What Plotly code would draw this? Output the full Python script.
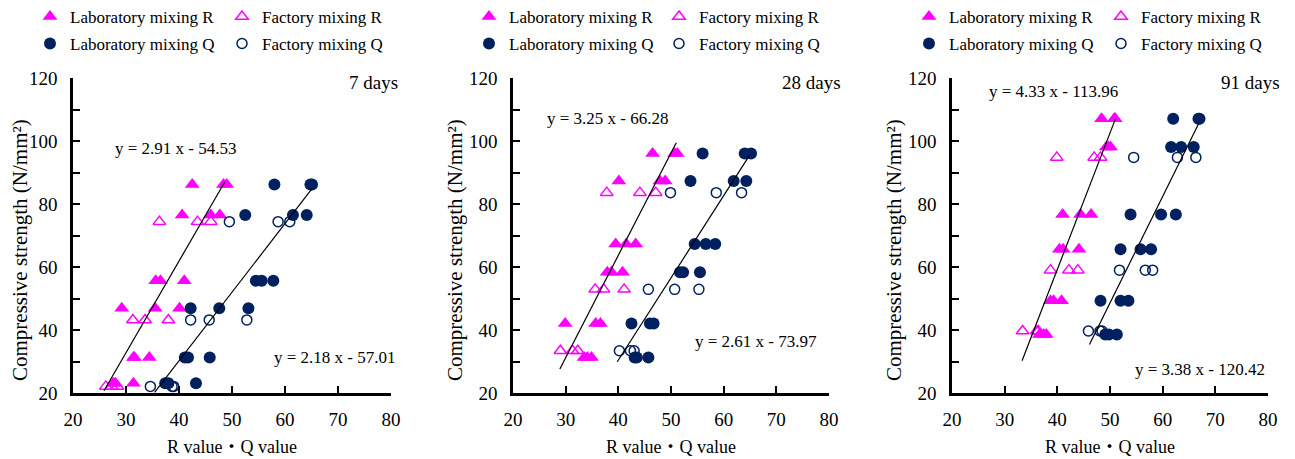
import plotly.graph_objects as go

# ---------------- data ----------------
panel_labels = ["7 days", "28 days", "91 days"]

# 7 days
lab_y_7 = [86.2, 86.2, 86.2, 76.5, 76.5, 76.5, 55.6, 55.6, 55.6, 46.9, 46.9, 46.9, 31.3, 31.3, 31.3, 23.1, 23.1, 23.1]
lab_R_7 = [42.5, 48.4, 49.0, 40.6, 46.0, 47.7, 35.6, 36.5, 41.0, 29.2, 35.5, 40.1, 31.4, 31.6, 34.4, 27.6, 28.0, 31.4]
lab_Q_7 = [58.0, 64.8, 65.1, 52.5, 61.5, 64.1, 54.5, 55.6, 57.8, 42.2, 47.6, 53.1, 41.1, 41.7, 45.8, 37.4, 38.0, 43.2]
fac_y_7 = [74.4, 74.4, 74.4, 43.2, 43.2, 43.2, 22.1, 22.1, 22.1]
fac_R_7 = [36.3, 43.5, 46.0, 31.3, 33.6, 38.0, 26.2, 27.3, 28.4]
fac_Q_7 = [49.5, 58.7, 60.9, 42.2, 45.7, 52.8, 34.6, 38.7, 39.0]

# 28 days
lab_y_28 = [96.0, 96.0, 96.0, 87.3, 87.3, 87.3, 67.3, 67.3, 67.3, 58.3, 58.3, 58.3, 42.1, 42.1, 42.1, 31.3, 31.3, 31.3]
lab_R_28 = [46.5, 50.7, 51.2, 40.1, 47.9, 48.9, 39.5, 41.5, 43.3, 37.9, 38.7, 40.8, 29.9, 35.7, 36.6, 33.5, 34.1, 34.9]
lab_Q_28 = [56.0, 64.0, 65.2, 53.7, 61.9, 64.3, 54.5, 56.6, 58.4, 51.7, 52.3, 55.5, 42.5, 46.0, 46.7, 43.1, 43.5, 45.7]
fac_y_28 = [83.6, 83.6, 83.6, 52.9, 52.9, 52.9, 33.4, 33.4, 33.4]
fac_R_28 = [37.8, 44.1, 47.1, 35.6, 37.2, 41.1, 29.0, 31.3, 32.3]
fac_Q_28 = [49.9, 58.6, 63.4, 45.7, 50.7, 55.3, 40.2, 42.3, 43.0]

# 91 days
lab_y_91 = [107.1, 107.1, 107.1, 98.1, 98.1, 98.1, 76.7, 76.7, 76.7, 65.6, 65.6, 65.6, 49.3, 49.3, 49.3, 38.6, 38.6, 38.6]
lab_R_91 = [48.4, 50.8, 51.0, 49.3, 49.7, 50.1, 41.0, 44.4, 46.4, 40.4, 41.1, 44.1, 38.7, 39.3, 40.8, 36.6, 37.4, 37.9]
lab_Q_91 = [62.0, 66.8, 67.0, 61.6, 63.5, 65.9, 53.9, 59.7, 62.5, 52.0, 55.8, 57.8, 48.2, 52.0, 53.5, 49.1, 49.8, 51.3]
fac_y_91 = [94.8, 94.8, 94.8, 59.0, 59.0, 59.0, 39.7, 39.7, 39.7]
fac_R_91 = [39.9, 47.0, 48.2, 38.7, 42.2, 43.9, 33.4, 36.1, 36.4]
fac_Q_91 = [54.5, 62.8, 66.3, 51.8, 56.7, 58.1, 45.9, 48.1, 48.5]

# regression lines (slope, intercept, x-range of drawn segment)
reg_R_slope = [2.91, 3.25, 4.33]
reg_R_int = [-54.53, -66.28, -113.96]
reg_R_x = [[25.85, 48.6], [28.9, 51.0], [33.3, 51.0]]
reg_Q_slope = [2.18, 2.61, 3.38]
reg_Q_int = [-57.01, -73.97, -120.42]
reg_Q_x = [[35.4, 65.1], [39.8, 64.9], [46.1, 66.8]]

x_ticks = [20, 30, 40, 50, 60, 70, 80]
y_ticks = [20, 30, 40, 50, 60, 70, 80, 90, 100, 110, 120]
y_ticktext = ["20", "", "40", "", "60", "", "80", "", "100", "", "120"]

series_names = ["Laboratory mixing R", "Factory mixing R", "Laboratory mixing Q", "Factory mixing Q"]

# ---------------- styling ----------------
W, H = 1295, 459
MAG = "#FF00FF"
NAVY = "#002060"
FONT = "Liberation Serif, Times New Roman, Noto Sans CJK JP, serif"

# pixel positions inside the figure (page is offset by the 8px body margin)
x_dom_px = [(65, 383), (505, 821), (944, 1260)]
y_top_px, y_bot_px = 70, 385
y_dom = [1 - y_bot_px / H, 1 - y_top_px / H]
ytitle_x_px = [12, 447, 886]
ytitle_y_px = 242
xtitle_y_px = 439
day_right_px = [392, 835, 1274]
day_y_px = 75

panels = [
    (lab_y_7, lab_R_7, lab_Q_7, fac_y_7, fac_R_7, fac_Q_7),
    (lab_y_28, lab_R_28, lab_Q_28, fac_y_28, fac_R_28, fac_Q_28),
    (lab_y_91, lab_R_91, lab_Q_91, fac_y_91, fac_R_91, fac_Q_91),
]

fig = go.Figure()
annotations = []
layout_kw = {}

# legend box left edges (px) for each panel: (col1, col2), and row centres
legend_box_x = [(22, 214), (461, 651), (901, 1093)]
legend_rows_y = [9, 36]

eq_R_pos = [(27.5, 97.5), (26.1, 107.0), (26.6, 115.6)]
eq_Q_pos = [(57.5, 31.4), (54.2, 36.2), (54.3, 27.6)]

marker_styles = [
    dict(symbol="triangle-up", size=13, color=MAG, line=dict(width=0)),
    dict(symbol="triangle-up-open", size=11, color=MAG, line=dict(width=1.5, color=MAG)),
    dict(symbol="circle", size=12, color=NAVY, line=dict(width=0)),
    dict(symbol="circle-open", size=10, color=NAVY, line=dict(width=1.5, color=NAVY)),
]

for i, (ly, lr, lq, fy, fr, fq) in enumerate(panels):
    xa = "x" if i == 0 else f"x{i+1}"
    ya = "y" if i == 0 else f"y{i+1}"
    xs = [lr, fr, lq, fq]
    ys = [ly, fy, ly, fy]
    for k in range(4):
        leg_idx = i * 4 + k + 1
        leg_name = "legend" if leg_idx == 1 else f"legend{leg_idx}"
        fig.add_trace(go.Scatter(
            x=xs[k], y=ys[k], mode="markers", name=series_names[k],
            marker=marker_styles[k], xaxis=xa, yaxis=ya,
            legend=leg_name, showlegend=True, cliponaxis=False,
        ))
        col = k % 2
        row = k // 2
        layout_kw[leg_name] = dict(
            x=legend_box_x[i][col] / W, y=1 - legend_rows_y[row] / H,
            xref="container", yref="container",
            xanchor="left", yanchor="middle",
            bgcolor="rgba(0,0,0,0)", borderwidth=0,
            font=dict(family=FONT, size=17, color="black"),
            itemwidth=30, tracegroupgap=0,
        )
    # regression lines
    for slope, icpt, xr in [(reg_R_slope[i], reg_R_int[i], reg_R_x[i]),
                            (reg_Q_slope[i], reg_Q_int[i], reg_Q_x[i])]:
        fig.add_trace(go.Scatter(
            x=xr, y=[slope * v + icpt for v in xr], mode="lines",
            line=dict(color="black", width=1.2), showlegend=False,
            xaxis=xa, yaxis=ya, hoverinfo="skip",
        ))
    # axes
    xd = [x_dom_px[i][0] / W, x_dom_px[i][1] / W]
    axkey = "xaxis" if i == 0 else f"xaxis{i+1}"
    aykey = "yaxis" if i == 0 else f"yaxis{i+1}"
    layout_kw[axkey] = dict(
        domain=xd, range=[20, 80], anchor=ya, tickvals=x_ticks,
        ticks="inside", ticklen=7, tickwidth=2, tickcolor="black",
        showline=True, linewidth=2.5, linecolor="black",
        showgrid=False, zeroline=False, automargin=False,
        tickfont=dict(family=FONT, size=19, color="black"),
        ticklabelstandoff=7,
    )
    layout_kw[aykey] = dict(
        domain=y_dom, range=[20, 120], anchor=xa, tickvals=y_ticks, ticktext=y_ticktext,
        ticks="inside", ticklen=7, tickwidth=2, tickcolor="black",
        showline=True, linewidth=2.5, linecolor="black",
        showgrid=False, zeroline=False, automargin=False,
        tickfont=dict(family=FONT, size=19, color="black"),
        ticklabelstandoff=9,
    )
    # equations & day labels
    annotations.append(dict(
        x=eq_R_pos[i][0], y=eq_R_pos[i][1], xref=xa, yref=ya,
        text=f"y = {reg_R_slope[i]:.2f} x - {abs(reg_R_int[i]):.2f}",
        showarrow=False, xanchor="left", yanchor="middle",
        font=dict(family=FONT, size=17, color="black")))
    annotations.append(dict(
        x=eq_Q_pos[i][0], y=eq_Q_pos[i][1], xref=xa, yref=ya,
        text=f"y = {reg_Q_slope[i]:.2f} x - {abs(reg_Q_int[i]):.2f}",
        showarrow=False, xanchor="left", yanchor="middle",
        font=dict(family=FONT, size=17, color="black")))
    annotations.append(dict(
        x=day_right_px[i] / W, y=1 - day_y_px / H, xref="paper", yref="paper",
        text=panel_labels[i], showarrow=False, xanchor="right", yanchor="middle",
        font=dict(family=FONT, size=19, color="black")))
    # axis titles
    cx = (x_dom_px[i][0] + x_dom_px[i][1]) / 2 / W
    annotations.append(dict(
        x=cx, y=1 - xtitle_y_px / H, xref="paper", yref="paper",
        text="R value・Q value", showarrow=False, xanchor="center", yanchor="middle",
        font=dict(family=FONT, size=18, color="black")))
    annotations.append(dict(
        x=ytitle_x_px[i] / W, y=1 - ytitle_y_px / H, xref="paper", yref="paper",
        text="Compressive strength (N/mm²)", textangle=-90,
        showarrow=False, xanchor="center", yanchor="middle",
        font=dict(family=FONT, size=21, color="black")))

fig.update_layout(
    width=W, height=H, margin=dict(l=0, r=0, t=0, b=0, autoexpand=False),
    paper_bgcolor="white", plot_bgcolor="white",
    annotations=annotations, **layout_kw,
)

fig.write_html("out.html")
